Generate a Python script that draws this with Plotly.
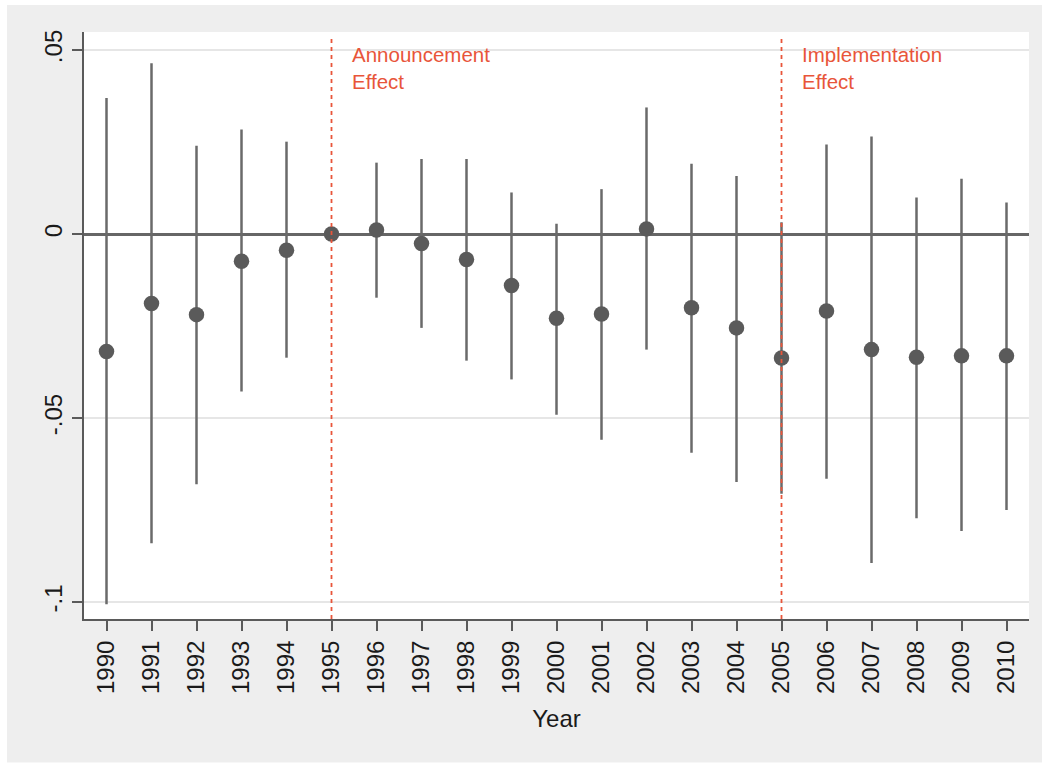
import plotly.graph_objects as go

years = list(range(1990, 2011))
coef = [-0.0319, -0.0189, -0.0219, -0.0074, -0.0044, 0.0, 0.0011, -0.0026, -0.0069, -0.0140,
        -0.0229, -0.0217, 0.0014, -0.0200, -0.0255, -0.0337, -0.0209, -0.0314, -0.0335, -0.0331, -0.0331]
ci_hi = [0.0370, 0.0464, 0.0240, 0.0284, 0.0251, 0.0, 0.0194, 0.0204, 0.0204, 0.0113,
         0.0028, 0.0122, 0.0344, 0.0191, 0.0158, 0.0032, 0.0243, 0.0265, 0.0099, 0.0150, 0.0086]
ci_lo = [-0.1006, -0.0840, -0.0680, -0.0428, -0.0336, 0.0, -0.0173, -0.0255, -0.0344, -0.0395,
         -0.0491, -0.0559, -0.0314, -0.0594, -0.0674, -0.0706, -0.0665, -0.0894, -0.0772, -0.0807, -0.0750]
ytick_vals = [-0.1, -0.05, 0, 0.05]
ytick_text = ["-.1", "-.05", "0", ".05"]
event_years = [1995, 2005]
event_labels = ["Announcement<br>Effect", "Implementation<br>Effect"]

RED = "#e8553a"
DARK = "#5a5a5a"
FONT = "Liberation Sans, Arial, Helvetica, sans-serif"

fig = go.Figure()
fig.add_trace(go.Scatter(
    x=years, y=coef, mode="markers",
    marker=dict(color=DARK, size=15.5, line=dict(width=0)),
    error_y=dict(type="data", symmetric=False,
                 array=[h - c for h, c in zip(ci_hi, coef)],
                 arrayminus=[c - l for c, l in zip(coef, ci_lo)],
                 color="#6a6a6a", thickness=2.5, width=0),
    showlegend=False,
))

for yr, lab in zip(event_years, event_labels):
    fig.add_shape(type="line", xref="x", yref="paper", x0=yr, x1=yr, y0=0, y1=0.99,
                  line=dict(color=RED, width=1.8, dash="4px,4px"), layer="above")
    fig.add_annotation(x=yr + 0.4, y=0.984, xref="x", yref="paper", text=lab,
                       showarrow=False, xanchor="left", yanchor="top", align="left",
                       font=dict(family=FONT, size=20.5, color=RED))

# outer white border strips (outside the gray panel)
for x0, x1, y0, y1 in [(-0.2, -0.0815, -0.4, 1.2), (-0.2, 1.2, 1.046, 1.2), (-0.2, 1.2, -0.4, -0.2445)]:
    fig.add_shape(type="rect", xref="paper", yref="paper", x0=x0, x1=x1, y0=y0, y1=y1,
                  fillcolor="white", line=dict(width=0), layer="below")

fig.update_layout(
    width=1042, height=764,
    margin=dict(l=84, r=13, t=32, b=145),
    paper_bgcolor="#eeeeee", plot_bgcolor="white",
    font=dict(family=FONT, color="#1a1a1a"),
    xaxis=dict(range=[1989.5, 2010.5], tickmode="array", tickvals=years,
               ticktext=[str(y) for y in years], tickangle=-90,
               tickfont=dict(size=24), ticks="outside", ticklen=10, tickwidth=2,
               tickcolor=DARK, showline=True, linecolor=DARK, linewidth=2,
               showgrid=False, zeroline=False,
               title=dict(text="Year", font=dict(size=24), standoff=17)),
    yaxis=dict(range=[-0.1046, 0.0549], tickmode="array", tickvals=ytick_vals,
               ticktext=ytick_text, tickangle=-90, tickfont=dict(size=24),
               ticks="outside", ticklen=10, tickwidth=2, tickcolor=DARK,
               showline=True, linecolor=DARK, linewidth=2,
               showgrid=True, gridcolor="#e6e6e6", gridwidth=2,
               zeroline=True, zerolinecolor="#666666", zerolinewidth=2.5),
)

fig.write_html("out.html")
